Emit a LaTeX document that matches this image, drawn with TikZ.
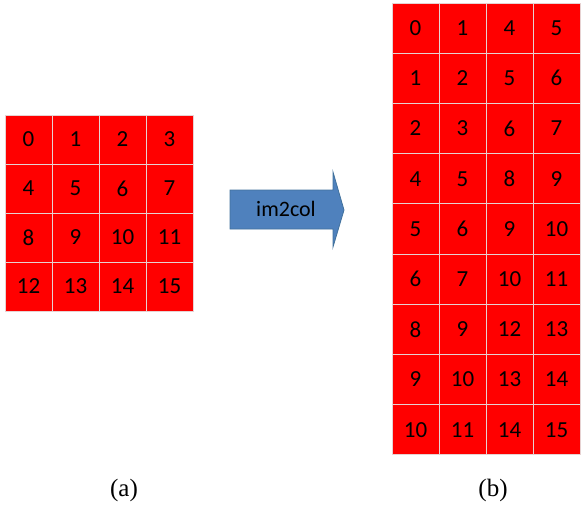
\documentclass[tikz,border=0pt]{standalone}
\usepackage{fontspec}
\newfontfamily\calfont{Carlito}
\newfontfamily\serfont{Liberation Serif}
\definecolor{cellred}{HTML}{FF0000}
\definecolor{cellline}{HTML}{E6D2D2}
\definecolor{arrowblue}{HTML}{4F81BD}
\definecolor{arrowedge}{HTML}{41719C}
\tikzset{
  cell/.style={draw=cellline, line width=1pt, fill=cellred, inner sep=0pt, outer sep=0pt,
    font=\calfont\fontsize{23}{23}\selectfont, text=black},
  lcell/.style={cell, minimum width=47pt, minimum height=49pt},
  rcell/.style={cell, minimum width=47pt, minimum height=50.2pt},
  caption/.style={font=\serfont\fontsize{25}{25}\selectfont, inner sep=0pt}
}
\begin{document}
\begin{tikzpicture}[x=1pt,y=-1pt]
\useasboundingbox (0,0) rectangle (586,515);
% left grid (a)
\foreach \r/\row in {0/{0,1,2,3},1/{4,5,6,7},2/{8,9,10,11},3/{12,13,14,15}}{
  \foreach \v [count=\c from 0] in \row {
    \node[lcell] (a-\r-\c) at ({5+23.5+47*\c},{115+24.5+49*\r}) {\v};
  }
}
% right grid (b)
\foreach \r/\row in {0/{0,1,4,5},1/{1,2,5,6},2/{2,3,6,7},3/{4,5,8,9},4/{5,6,9,10},5/{6,7,10,11},6/{8,9,12,13},7/{9,10,13,14},8/{10,11,14,15}}{
  \foreach \v [count=\c from 0] in \row {
    \node[rcell] (b-\r-\c) at ({392+23.5+47*\c},{3+25.1+50.2*\r}) {\v};
  }
}
% arrow
\filldraw[fill=arrowblue, draw=arrowedge, line width=0.8pt]
  (230,190) -- (333,190) -- (333,172) -- (344,210) -- (333,247) -- (333,229) -- (230,229) -- cycle;
\node[font=\calfont\fontsize{22}{22}\selectfont, inner sep=0pt] (lbl) at (286,209) {im2col};
% captions
\node[caption] (capa) at (124,490) {(a)};
\node[caption] (capb) at (493,490) {(b)};
\end{tikzpicture}
\end{document}
